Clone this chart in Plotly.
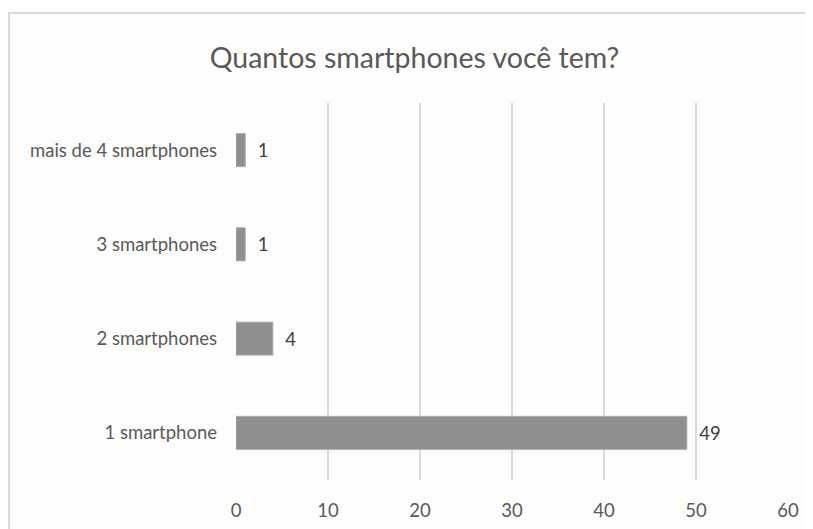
import plotly.graph_objects as go

categories = ["1 smartphone", "2 smartphones", "3 smartphones", "mais de 4 smartphones"]
values = [49, 4, 1, 1]
x_ticks = [0, 10, 20, 30, 40, 50, 60]

# page body has an 8px margin, so the figure is drawn 8px right/down
OFF = 8
W, H = 813 - OFF, 529 - OFF
L, R, T, B = 236 - OFF, 25, 103 - OFF, 49
pw, ph = W - L - R, H - T - B

fig = go.Figure(go.Bar(
    y=categories, x=values, orientation="h",
    marker=dict(color="#8f8f8f", line=dict(color="#a6a6a6", width=1)),
    width=0.35,
    text=["\u00a0\u00a0" + str(v) for v in values], textposition="outside",
    textfont=dict(size=18.5, color="#404040"),
    cliponaxis=False,
))

frame_color = "#d9d9d9"
fig.update_layout(
    width=W, height=H,
    margin=dict(l=L, r=R, t=T, b=B, autoexpand=False),
    paper_bgcolor="#fdfdfd", plot_bgcolor="#fdfdfd",
    font=dict(family="Lato", color="#595959", size=18.5),
    title=dict(text="Quantos smartphones você tem?", x=0.505, xanchor="center",
               y=1 - (58 - OFF) / H, yanchor="middle",
               font=dict(size=28.5, color="#595959")),
    xaxis=dict(range=[0, 60], tickvals=x_ticks, showgrid=True, gridcolor=frame_color,
               gridwidth=1.5, zeroline=False, showline=False, ticks="", automargin=False,
               tickfont=dict(size=18.5, color="#595959"), ticklabelstandoff=17),
    yaxis=dict(categoryorder="array", categoryarray=categories, showgrid=False,
               zeroline=False, showline=False, ticks="", automargin=False,
               tickfont=dict(size=18.5, color="#595959"), ticklabelstandoff=18),
    showlegend=False,
    shapes=[
        dict(type="line", xref="paper", yref="paper",
             x0=(0 - L) / pw, x1=(W - L) / pw, y0=(H - B - 5) / ph, y1=(H - B - 5) / ph,
             line=dict(color=frame_color, width=2)),
        dict(type="line", xref="paper", yref="paper",
             x0=(1 - L) / pw, x1=(1 - L) / pw, y0=(H - B - 5) / ph, y1=-B / ph,
             line=dict(color=frame_color, width=2)),
    ],
)

fig.write_html("out.html")
